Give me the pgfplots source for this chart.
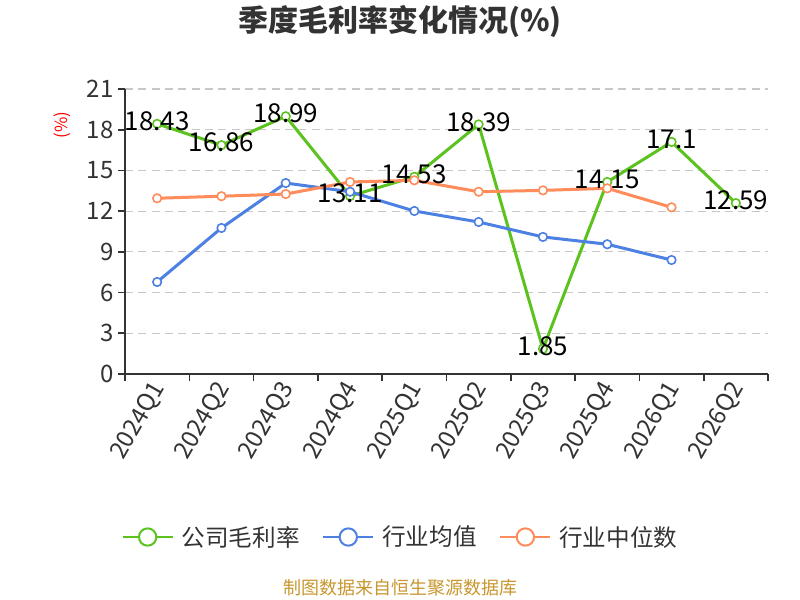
\documentclass[border=0pt]{standalone}
\usepackage{fontspec}
\setmainfont{Noto Sans CJK SC}
\usepackage{pgfplots}
\pgfplotsset{compat=1.18}
\definecolor{cgreen}{HTML}{5BC21E}
\definecolor{cblue}{HTML}{4D80E3}
\definecolor{corange}{HTML}{FF8C5A}
\definecolor{cfoot}{HTML}{C8962E}
\definecolor{ctext}{HTML}{333333}
\definecolor{cgrid}{HTML}{C8C8C8}
\pgfplotstableread{
x y lab
0 18.43 18.43
1 16.86 16.86
2 18.99 18.99
3 13.11 13.11
4 14.53 14.53
5 18.39 18.39
6 1.85 1.85
7 14.15 14.15
8 17.1 17.1
9 12.59 12.59
}\company
\pgfplotstableread{
x y
0 6.78
1 10.76
2 14.07
3 13.43
4 12.01
5 11.20
6 10.10
7 9.56
8 8.40
}\avg
\pgfplotstableread{
x y
0 12.95
1 13.10
2 13.26
3 14.15
4 14.27
5 13.43
6 13.53
7 13.68
8 12.28
}\med
\begin{document}
\begin{tikzpicture}[x=0.75pt,y=0.75pt]
\path[use as bounding box] (0,0) rectangle (800,600);
\begin{axis}[
  at={(93.75pt,169.5pt)}, anchor=south west,
  scale only axis, width=482.25pt, height=213.75pt,
  xmin=-0.5, xmax=9.5, ymin=0, ymax=21,
  axis lines*=left,
  axis line style={ctext, line width=1.2pt},
  xtick={0,...,9},
  xticklabels={2024Q1,2024Q2,2024Q3,2024Q4,2025Q1,2025Q2,2025Q3,2025Q4,2026Q1,2026Q2},
  minor xtick={-0.5,0.5,...,9.5},
  major x tick style={draw=none},
  minor x tick style={ctext, line width=1.2pt},
  ytick={0,3,...,21},
  y tick style={ctext, line width=1.2pt},
  tick align=outside,
  minor tick length=5pt,
  major tick length=5pt,
  ymajorgrids,
  grid style={cgrid, dashed, line width=0.9pt, dash pattern=on 6pt off 4pt},
  tick label style={font=\fontsize{18}{21}\selectfont, text=ctext},
  xticklabel style={rotate=60, anchor=east, yshift=-3pt, xshift=2pt},
  /pgf/number format/assume math mode=true,
  clip=false,
  legend style={at={(0.429,-0.572)}, anchor=center, draw=none, fill=none,
    legend columns=3, font=\fontsize{17.7}{20}\selectfont, text=ctext,
    /tikz/every odd column/.append style={column sep=4pt},
    /tikz/every even column/.append style={column sep=15pt}},
  legend cell align=left,
  legend image code/.code={
    \draw[#1, line width=1.5pt, mark=none] (0pt,0pt) -- (37.5pt,0pt);
    \draw[#1, line width=1.5pt, mark=none, fill=white] (18.75pt,0pt) circle (6.5pt);
  },
]
\addplot[cgreen, line width=2.25pt, mark=*, mark size=3.2pt,
  mark options={fill=white, line width=1.2pt},
  nodes near coords, point meta=explicit symbolic,
  every node near coord/.append style={anchor=center, text=black, font=\fontsize{19.5}{22}\selectfont, yshift=2pt}]
  table[x=x, y=y, meta=lab] {\company};
\addlegendentry{公司毛利率}
\addplot[cblue, line width=2.25pt, mark=*, mark size=3.2pt,
  mark options={fill=white, line width=1.2pt}]
  table[x=x, y=y] {\avg};
\addlegendentry{行业均值}
\addplot[corange, line width=2.25pt, mark=*, mark size=3.2pt,
  mark options={fill=white, line width=1.2pt}]
  table[x=x, y=y] {\med};
\addlegendentry{行业中位数}
\end{axis}
\node[font=\bfseries\fontsize{22.5}{26}\selectfont, text=ctext] at (400,578) {季度毛利率变化情况(\%)};
\node[rotate=90, text=red, font=\fontsize{12.5}{14}\selectfont] at (62,475) {(\%)};
\node[text=cfoot, font=\fontsize{13.5}{16}\selectfont] at (400,12) {制图数据来自恒生聚源数据库};
\end{tikzpicture}
\end{document}
